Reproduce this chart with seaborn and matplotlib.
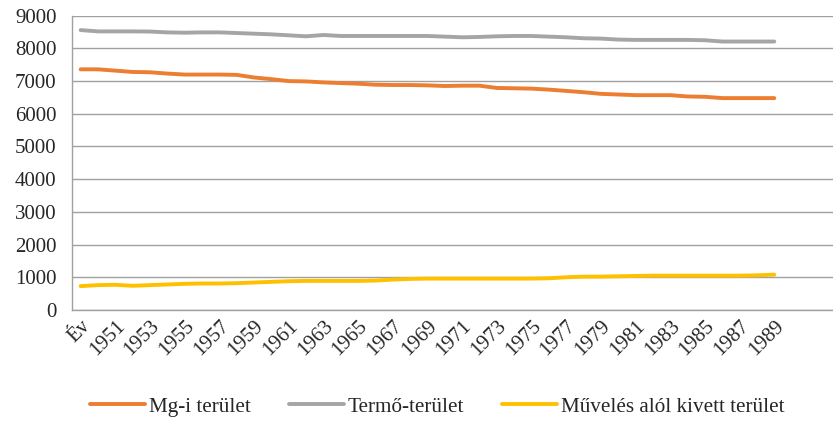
import pandas as pd
import matplotlib
matplotlib.use('Agg')
import matplotlib.pyplot as plt
import seaborn as sns

# categories on the x axis (first one is the header cell "Év")
categories = ['Év'] + [str(y) for y in range(1950, 1990)]
n_slots = 44  # the axis has a few empty slots after 1989

mg_terulet = [7360, 7360, 7320, 7280, 7270, 7230, 7200, 7200, 7200, 7190,
              7110, 7060, 7000, 6990, 6960, 6940, 6920, 6890, 6880, 6880,
              6870, 6850, 6860, 6860, 6790, 6780, 6770, 6740, 6700, 6660,
              6610, 6590, 6570, 6570, 6570, 6530, 6520, 6480, 6480, 6480,
              6480]
termo_terulet = [8560, 8520, 8520, 8520, 8515, 8490, 8480, 8490, 8490, 8470,
                 8450, 8430, 8400, 8370, 8410, 8380, 8380, 8380, 8380, 8380,
                 8380, 8360, 8340, 8350, 8370, 8380, 8380, 8360, 8340, 8310,
                 8300, 8270, 8260, 8260, 8260, 8260, 8250, 8210, 8210, 8210,
                 8210]
muveles_alol = [730, 760, 770, 740, 760, 780, 800, 810, 810, 820,
                840, 860, 880, 890, 890, 890, 890, 900, 930, 950,
                960, 960, 960, 960, 960, 960, 960, 970, 1000, 1020,
                1020, 1030, 1040, 1050, 1050, 1050, 1050, 1050, 1050, 1060,
                1080]

series_names = ['Mg-i terület', 'Termő-terület', 'Művelés alól kivett terület']
colors = ['#ED7D31', '#A5A5A5', '#FFC000']

# long form table for seaborn
rows = []
for name, vals in zip(series_names, [mg_terulet, termo_terulet, muveles_alol]):
    for i, v in enumerate(vals):
        rows.append({'idx': i, 'value': v, 'series': name})
df = pd.DataFrame(rows)

sns.set_style('white')
plt.rcParams['font.family'] = ['Liberation Serif', 'DejaVu Serif']

fig = plt.figure(figsize=(8.33, 4.21), dpi=100)
ax = fig.add_axes([0.0864, 0.2637, 0.916, 0.699])

sns.lineplot(data=df, x='idx', y='value', hue='series', palette=colors,
             hue_order=series_names, linewidth=2.8, ax=ax, legend=False,
             sort=False)
for line in ax.lines:
    line.set_solid_capstyle('round')
    line.set_solid_joinstyle('round')

# axes styling
ax.set_xlim(-0.5, n_slots - 0.5)
ax.set_ylim(0, 9000)
ax.set_yticks(range(0, 9001, 1000))
ax.yaxis.grid(True, color='#a0a0a0', linewidth=1)
ax.set_axisbelow(True)
for s in ['top', 'right']:
    ax.spines[s].set_visible(False)
for s in ['left', 'bottom']:
    ax.spines[s].set_color('#a0a0a0')
    ax.spines[s].set_linewidth(1)

# tick marks at category boundaries, labels on every second category
ax.set_xticks([i - 0.5 for i in range(n_slots + 1)])
ax.set_xticklabels([])
ax.set_xticks(list(range(0, len(categories), 2)), minor=True)
ax.set_xticklabels(categories[::2], minor=True, rotation=45, ha='right',
                   rotation_mode='anchor', fontsize=15)
ax.tick_params(axis='x', which='major', length=5, color='#a0a0a0', width=1)
ax.tick_params(axis='x', which='minor', length=0, pad=5)
ax.tick_params(axis='y', length=6, color='#a0a0a0', width=1, pad=5,
               labelsize=15)
ax.set_xlabel('')
ax.set_ylabel('')

handles = [plt.Line2D([], [], color=c, linewidth=2.8) for c in colors]
fig.legend(handles, series_names, loc='center', bbox_to_anchor=(0.525, 0.034),
           ncol=3, frameon=False, fontsize=15.2, handlelength=2.6,
           handletextpad=0.2, columnspacing=1.8)

fig.savefig('out.png', dpi=100)
